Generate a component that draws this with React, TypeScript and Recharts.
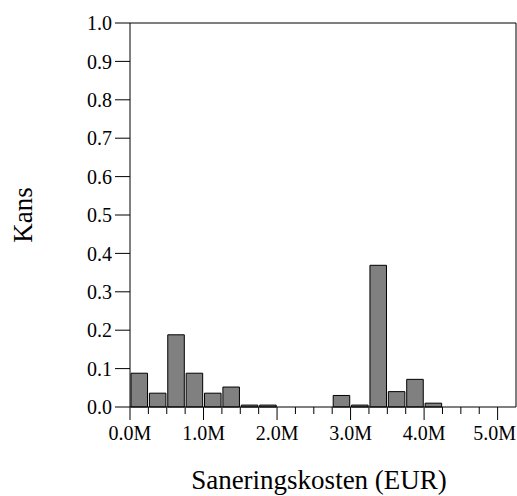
import React from 'react';
import { BarChart, Bar, XAxis, YAxis, Label, ReferenceLine } from 'recharts';

// histogram bins (start of bin, in millions EUR), width 0.25M
const binStarts = [0, 0.25, 0.5, 0.75, 1.0, 1.25, 1.5, 1.75, 2.0, 2.25, 2.5, 2.75, 3.0, 3.25, 3.5, 3.75, 4.0, 4.25, 4.5, 4.75, 5.0];
const kans = [0.088, 0.036, 0.188, 0.088, 0.036, 0.052, 0.005, 0.005, null, null, null, 0.03, 0.005, 0.369, 0.04, 0.072, 0.01, null, null, null, null];
const BIN = 0.25;

const xTicks = [0, 0.25, 0.5, 0.75, 1, 1.25, 1.5, 1.75, 2, 2.25, 2.5, 2.75, 3, 3.25, 3.5, 3.75, 4, 4.25, 4.5, 4.75, 5];
const xLabels = ['0.0M', '1.0M', '2.0M', '3.0M', '4.0M', '5.0M'];
const yTicks = [0, 0.1, 0.2, 0.3, 0.4, 0.5, 0.6, 0.7, 0.8, 0.9, 1.0];
const X_MAX = 5.25;

const data = binStarts.map((s, i) => ({ mid: s + BIN / 2, kans: kans[i] }));

const W = 517;
const H = 496;
const LEFT = 130;
const RIGHT = 1;
const TOP = 23;
const BOTTOM = 89;
const PLOT_W = W - LEFT - RIGHT;
const FONT = "'Liberation Serif', 'DejaVu Serif', serif";
const TICK_FS = 20;

function XTick(props: any) {
  const { x, y, payload } = props;
  const v = payload.value;
  const major = Math.abs(v - Math.round(v)) < 1e-6;
  // keep the last label inside the picture
  const half = TICK_FS * 1.07;
  const tx = Math.min(x, W - 1 - half);
  return (
    <g>
      <line x1={x} x2={x} y1={y} y2={y + (major ? 13 : 7)} stroke="#000" />
      {major && (
        <text x={tx} y={y + 33} textAnchor="middle" fontSize={TICK_FS} fontFamily={FONT} fill="#000">
          {xLabels[Math.round(v)]}
        </text>
      )}
    </g>
  );
}

export default function App() {
  return (
    <div style={{ position: 'absolute', left: 0, top: 0, width: W, height: H, background: '#fff', fontFamily: FONT }}>
      <BarChart width={W} height={H} data={data} margin={{ top: TOP, right: RIGHT, bottom: 0, left: 0 }}>
        <XAxis
          xAxisId="b"
          dataKey="mid"
          type="number"
          domain={[0, X_MAX]}
          ticks={xTicks}
          interval={0}
          tickSize={0}
          tickMargin={0}
          tickLine={false}
          tick={<XTick />}
          height={BOTTOM}
          axisLine={{ stroke: '#000' }}
        >
          <Label
            content={({ viewBox }: any) => (
              <text
                x={viewBox.x + viewBox.width / 2 - 4}
                y={viewBox.y + 82}
                textAnchor="middle"
                fontSize={27}
                fontFamily={FONT}
                fill="#000"
              >
                Saneringskosten (EUR)
              </text>
            )}
          />
        </XAxis>
        <YAxis
          yAxisId="l"
          type="number"
          domain={[0, 1]}
          ticks={yTicks}
          interval={0}
          width={LEFT}
          tickSize={15}
          tickMargin={3}
          tickLine={{ stroke: '#000' }}
          axisLine={{ stroke: '#000' }}
          tick={{ fontSize: TICK_FS, fontFamily: FONT, fill: '#000' }}
          tickFormatter={(v: number) => v.toFixed(1)}
        >
          <Label
            content={({ viewBox }: any) => {
              const cx = 31.5;
              const cy = viewBox.y + viewBox.height / 2;
              return (
                <text x={cx} y={cy} transform={`rotate(-90, ${cx}, ${cy})`} textAnchor="middle" fontSize={27} fontFamily={FONT} fill="#000">
                  Kans
                </text>
              );
            }}
          />
        </YAxis>
        <ReferenceLine xAxisId="b" yAxisId="l" y={1} stroke="#000" />
        <ReferenceLine xAxisId="b" yAxisId="l" x={X_MAX} stroke="#000" />
        <Bar
          xAxisId="b"
          yAxisId="l"
          dataKey="kans"
          fill="#808080"
          stroke="#000"
          strokeWidth={1}
          barSize={(PLOT_W * BIN) / X_MAX}
          isAnimationActive={false}
        />
      </BarChart>
    </div>
  );
}
